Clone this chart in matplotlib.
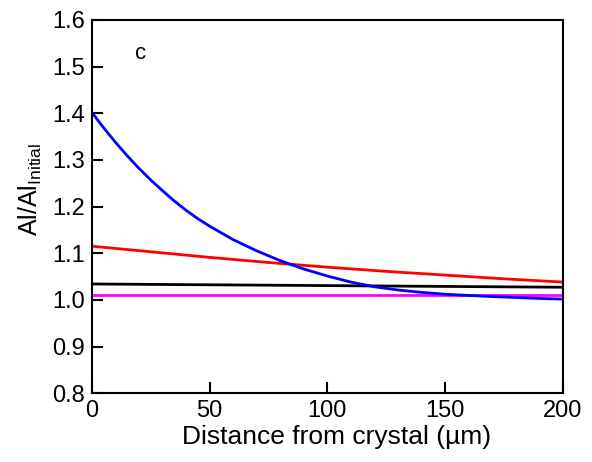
import matplotlib.pyplot as plt

plt.rcParams['font.family'] = ['Liberation Sans', 'DejaVu Sans']
plt.rcParams['mathtext.fontset'] = 'custom'
plt.rcParams['mathtext.rm'] = 'Liberation Sans'

# curves
x_blue = [0, 5, 10, 15, 20, 25, 30, 35, 40, 45, 50, 60, 70, 80, 90, 100, 110,
          120, 130, 140, 150, 160, 170, 180, 190, 200]
y_blue = [1.402, 1.369, 1.338, 1.309, 1.282, 1.257, 1.234, 1.212, 1.192, 1.174,
          1.158, 1.129, 1.105, 1.084, 1.066, 1.051, 1.038, 1.028, 1.021, 1.016,
          1.012, 1.0095, 1.007, 1.005, 1.003, 1.0015]
x_red = [0, 25, 50, 75, 100, 125, 150, 175, 200]
y_red = [1.115, 1.103, 1.091, 1.080, 1.070, 1.061, 1.053, 1.045, 1.038]
x_black = [0, 200]
y_black = [1.034, 1.027]
x_mag = [0, 200]
y_mag = [1.010, 1.010]

fig = plt.figure(figsize=(5.92, 4.62), dpi=100)
ax = fig.add_axes([0.155, 0.149, 0.796, 0.808])

lw = 2.0
ax.plot(x_black, y_black, color='black', lw=lw)
ax.plot(x_mag, y_mag, color='magenta', lw=lw)
ax.plot(x_red, y_red, color='red', lw=lw)
ax.plot(x_blue, y_blue, color='blue', lw=lw)

ax.set_xlim(0, 200)
ax.set_ylim(0.8, 1.6)
ax.set_xticks([0, 50, 100, 150, 200])
ax.set_yticks([0.8, 0.9, 1.0, 1.1, 1.2, 1.3, 1.4, 1.5, 1.6])
ax.set_yticklabels([f'{v:.1f}' for v in ax.get_yticks()])
ax.tick_params(direction='in', length=8, width=1.5, labelsize=17,
               top=False, right=False, pad=5)
for s in ax.spines.values():
    s.set_linewidth(1.5)

ax.set_xlabel('Distance from crystal (µm)', fontsize=19, labelpad=2)
ax.xaxis.set_label_coords(0.52, -0.085)
ax.set_ylabel(r'Al/Al$_{\mathrm{Initial}}$', fontsize=18)
ax.yaxis.set_label_coords(-0.102, 0.545)
ax.text(0.103, 0.91, 'c', transform=ax.transAxes, fontsize=16,
        ha='center', va='center')

fig.savefig('out.png', dpi=100)
